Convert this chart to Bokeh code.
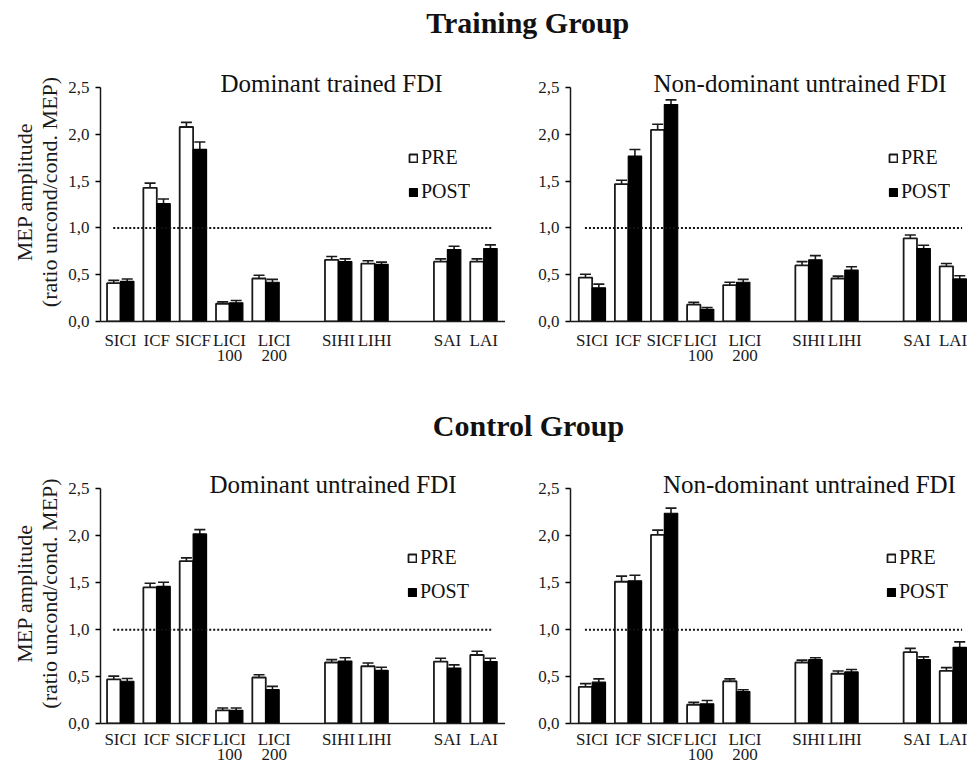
from bokeh.plotting import figure
from bokeh.models import (ColumnDataSource, Whisker, TeeHead, FixedTicker, Label,
                          Legend, LegendItem, Range1d, CustomJSTickFormatter)
from bokeh.layouts import column, row
from bokeh.embed import file_html
from bokeh.resources import INLINE

FONT = "Liberation Serif"

# ---------------- data ----------------
groups = [["SICI", "ICF", "SICF", "LICI 100", "LICI 200"], ["SIHI", "LIHI"], ["SAI", "LAI"]]
tick_text = ["SICI", "ICF", "SICF", "LICI\n100", "\u00a0\u00a0\u00a0\u00a0LICI\n\u00a0\u00a0\u00a0\u00a0200",
             "SIHI", "LIHI", "SAI", "LAI"]
y_ticks = [0.0, 0.5, 1.0, 1.5, 2.0, 2.5]
threshold = 1.0

# Training group - Dominant trained FDI
tr_dom_pre = [0.41, 1.43, 2.08, 0.19, 0.46, 0.66, 0.62, 0.64, 0.64]
tr_dom_pre_err = [0.03, 0.05, 0.05, 0.02, 0.035, 0.035, 0.03, 0.03, 0.03]
tr_dom_post = [0.43, 1.26, 1.84, 0.20, 0.42, 0.64, 0.61, 0.77, 0.78]
tr_dom_post_err = [0.025, 0.05, 0.08, 0.025, 0.03, 0.03, 0.025, 0.035, 0.04]

# Training group - Non-dominant untrained FDI
tr_nd_pre = [0.47, 1.47, 2.05, 0.18, 0.39, 0.60, 0.46, 0.89, 0.59]
tr_nd_pre_err = [0.035, 0.04, 0.06, 0.025, 0.03, 0.04, 0.025, 0.035, 0.03]
tr_nd_post = [0.36, 1.77, 2.32, 0.13, 0.42, 0.66, 0.55, 0.78, 0.455]
tr_nd_post_err = [0.04, 0.07, 0.05, 0.02, 0.03, 0.045, 0.035, 0.035, 0.035]

# Control group - Dominant untrained FDI
ct_dom_pre = [0.47, 1.45, 1.73, 0.14, 0.49, 0.65, 0.61, 0.66, 0.73]
ct_dom_pre_err = [0.035, 0.045, 0.035, 0.025, 0.03, 0.03, 0.035, 0.035, 0.04]
ct_dom_post = [0.45, 1.46, 2.02, 0.14, 0.36, 0.665, 0.565, 0.59, 0.66]
ct_dom_post_err = [0.03, 0.045, 0.045, 0.025, 0.035, 0.035, 0.035, 0.035, 0.035]

# Control group - Non-dominant untrained FDI
ct_nd_pre = [0.39, 1.51, 2.01, 0.20, 0.45, 0.65, 0.53, 0.76, 0.56]
ct_nd_pre_err = [0.035, 0.06, 0.05, 0.025, 0.025, 0.025, 0.03, 0.04, 0.035]
ct_nd_post = [0.44, 1.52, 2.24, 0.21, 0.34, 0.68, 0.55, 0.68, 0.81]
ct_nd_post_err = [0.035, 0.06, 0.055, 0.035, 0.02, 0.02, 0.025, 0.03, 0.06]

# category positions: one empty slot between groups
xs = []
pos = 0
for g in groups:
    for _ in g:
        xs.append(pos)
        pos += 1
    pos += 1

BAR_W = 0.37
TOTAL_W = 967


def make_panel(title, pre, pre_err, post, post_err, frame_w, border_left, frame_h,
               border_top, border_bottom, ylabel, title_x, legend_loc, x_start, x_end,
               xlabel_standoff):
    p = figure(width=frame_w + border_left, height=frame_h + border_top + border_bottom,
               output_backend="svg", toolbar_location=None,
               x_range=Range1d(x_start, x_end), y_range=Range1d(0, 2.77),
               min_border_left=border_left, min_border_right=0,
               min_border_top=border_top, min_border_bottom=border_bottom)
    p.outline_line_color = None
    p.xgrid.grid_line_color = None
    p.ygrid.grid_line_color = None
    p.background_fill_color = "white"
    p.border_fill_color = "white"

    src = ColumnDataSource(dict(
        xpre=[x - BAR_W / 2 for x in xs], xpost=[x + BAR_W / 2 for x in xs],
        pre=pre, post=post,
        pre_up=[v + e for v, e in zip(pre, pre_err)],
        post_up=[v + e for v, e in zip(post, post_err)],
    ))

    r_pre = p.vbar(x="xpre", top="pre", width=BAR_W, source=src, fill_color="white",
                   line_color="#1a1a1a", line_width=1.8)
    r_post = p.vbar(x="xpost", top="post", width=BAR_W, source=src, fill_color="black",
                    line_color="black", line_width=1.2)

    for base, lo, up in (("xpre", "pre", "pre_up"), ("xpost", "post", "post_up")):
        w = Whisker(source=src, base=base, lower=lo, upper=up, dimension="height",
                    line_color="#1a1a1a", line_width=1.6,
                    upper_head=TeeHead(size=11, line_color="#1a1a1a", line_width=1.6),
                    lower_head=None)
        p.add_layout(w)

    p.line(x=[xs[0] - 0.2, xs[-1] + 0.25], y=[threshold, threshold],
           line_color="#111111", line_width=2, line_dash="2 2")

    # axes
    p.yaxis.ticker = FixedTicker(ticks=y_ticks)
    p.yaxis.formatter = CustomJSTickFormatter(code="return tick.toFixed(1).replace('.', ',');")
    p.yaxis.bounds = (0, 2.5)
    p.yaxis.axis_line_color = "#1a1a1a"
    p.yaxis.axis_line_width = 1.5
    p.yaxis.major_tick_out = 5
    p.yaxis.major_tick_in = 0
    p.yaxis.major_tick_line_width = 1.5
    p.yaxis.minor_tick_line_color = None
    p.yaxis.major_label_text_font = FONT
    p.yaxis.major_label_text_font_size = "17px"
    p.yaxis.major_label_text_color = "#1a1a1a"
    p.yaxis.major_label_standoff = 6
    if ylabel:
        p.yaxis.axis_label = ylabel
        p.yaxis.axis_label_text_font = FONT
        p.yaxis.axis_label_text_font_size = "22px"
        p.yaxis.axis_label_text_font_style = "normal"
        p.yaxis.axis_label_text_color = "#1a1a1a"
        p.yaxis.axis_label_text_line_height = 1.0
        p.yaxis.axis_label_standoff = 3

    p.xaxis.ticker = FixedTicker(ticks=xs)
    p.xaxis.formatter = CustomJSTickFormatter(
        args=dict(pos=xs, labels=tick_text),
        code="const i = pos.indexOf(tick); return i >= 0 ? labels[i] : '';")
    p.xaxis.axis_line_color = "#1a1a1a"
    p.xaxis.axis_line_width = 1.5
    p.xaxis.major_tick_out = 0
    p.xaxis.major_tick_in = 0
    p.xaxis.minor_tick_line_color = None
    p.xaxis.major_label_text_font = FONT
    p.xaxis.major_label_text_font_size = "17px"
    p.xaxis.major_label_text_color = "#1a1a1a"
    p.xaxis.major_label_text_line_height = 0.82
    p.xaxis.major_label_standoff = xlabel_standoff

    p.add_layout(Label(x=title_x, y=2.55, text=title, text_align="center",
                       text_baseline="middle", text_font=FONT, text_font_size="25px",
                       text_color="#111111"))

    legend = Legend(items=[LegendItem(label="PRE", renderers=[r_pre]),
                           LegendItem(label="POST", renderers=[r_post])],
                    location=legend_loc, glyph_width=10, glyph_height=10,
                    label_text_font=FONT, label_text_font_size="20px",
                    label_text_color="#111111", label_standoff=3,
                    border_line_color=None, background_fill_alpha=0,
                    padding=0, margin=0, spacing=11)
    p.add_layout(legend)
    return p


def group_title(text, height, center_from_top, cx):
    f = figure(width=TOTAL_W, height=height, output_backend="svg", toolbar_location=None,
               x_range=Range1d(0, TOTAL_W), y_range=Range1d(0, height),
               min_border=0, x_axis_type=None, y_axis_type=None)
    f.outline_line_color = None
    f.grid.grid_line_color = None
    f.add_layout(Label(x=cx, y=height - center_from_top, text=text, text_align="center",
                       text_baseline="middle", text_font=FONT, text_font_size="30px",
                       text_font_style="bold", text_color="#111111"))
    return f


YLABEL = "MEP amplitude\n(ratio uncond/cond. MEP)"

p1 = make_panel("Dominant trained FDI", tr_dom_pre, tr_dom_pre_err, tr_dom_post, tr_dom_post_err,
                405, 100, 259, 14, 50, YLABEL, 5.81, (308, 118), -0.55, 10.6, 9)
p2 = make_panel("Non-dominant untrained FDI", tr_nd_pre, tr_nd_pre_err, tr_nd_post, tr_nd_post_err,
                397, 65, 259, 14, 50, None, 5.76, (318, 118), -0.6, 10.4, 9)
p3 = make_panel("Dominant untrained FDI", ct_dom_pre, ct_dom_pre_err, ct_dom_post, ct_dom_post_err,
                405, 100, 260, 3, 44, YLABEL, 5.85, (307, 120), -0.55, 10.6, 6)
p4 = make_panel("Non-dominant untrained FDI", ct_nd_pre, ct_nd_pre_err, ct_nd_post, ct_nd_post_err,
                397, 65, 260, 3, 44, None, 6.02, (316, 120), -0.6, 10.4, 6)

layout = column(group_title("Training  Group", 48, 22, 531), row(p1, p2),
                group_title("Control Group", 89, 54, 528), row(p3, p4))

open("out.html", "w").write(file_html(layout, INLINE))
